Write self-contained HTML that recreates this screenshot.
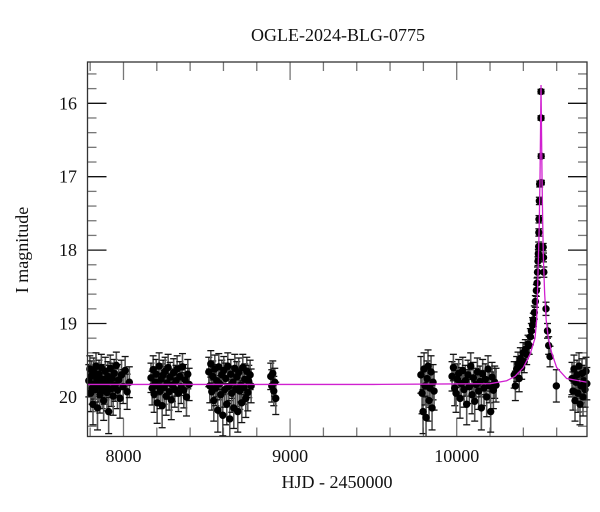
<!DOCTYPE html>
<html><head><meta charset="utf-8"><style>
html,body{margin:0;padding:0;background:#fff;}
svg{display:block;font-family:"Liberation Serif",serif;}
</style></head><body>
<svg id="chart" width="600" height="512" viewBox="0 0 600 512" xmlns="http://www.w3.org/2000/svg">
<rect width="600" height="512" fill="#fff"/>
<text x="338" y="41" font-size="18" text-anchor="middle" fill="#111">OGLE-2024-BLG-0775</text>
<text x="0" y="0" font-size="18" text-anchor="middle" fill="#111" transform="translate(28,250) rotate(-90)">I magnitude</text>
<text x="337" y="488" font-size="18" text-anchor="middle" fill="#111">HJD - 2450000</text>
<g id="ticks"></g>
<g id="errs"></g>
<g id="pts"></g>
<g id="model"></g>
<rect x="87.5" y="62" width="499.5" height="374.5" fill="none" stroke="#333" stroke-width="1.3"/>
</svg>
<script>
const xTickValues=[8000,9000,10000];
const yTickValues=[16,17,18,19,20];
const modelT=[7784,8500,9500,10200,10300,10350,10400,10440,10470,10480,10487,10495,10500,10503,10506,10509,10512,10516,10520,10528,10537,10550,10570,10600,10660,10782];
const modelM=[19.83,19.83,19.83,19.82,19.78,19.72,19.6,19.42,19.2,18.95,18.4,17.7,17.0,16.4,15.75,16.4,17.0,17.6,18.1,18.6,18.95,19.2,19.4,19.6,19.75,19.8];
const obsT=[7792,7798,7803,7808,7812,7817,7821,7826,7830,7835,7840,7844,7849,7853,7858,7862,7867,7872,7876,7881,7886,7891,7896,7901,7906,7911,7916,7921,7927,7932,7938,7944,7950,7957,7964,7971,7979,7988,7998,8010,8022,8035,
8165,8172,8178,8184,8190,8196,8202,8208,8214,8220,8226,8232,8238,8244,8250,8256,8262,8268,8274,8280,8287,8294,8301,8308,8315,8322,8330,8338,8346,8354,8362,8370,8378,8386,8394,
8512,8518,8524,8530,8536,8542,8548,8554,8560,8566,8572,8578,8584,8590,8596,8602,8608,8614,8620,8626,8632,8638,8644,8650,8656,8662,8668,8674,8680,8686,8692,8698,8704,8710,8716,8722,8728,8734,8740,8746,8752,8760,8766,
8884,8890,8896,8902,8908,8914,
9785,9792,9798,9804,9810,9816,9822,9828,9834,9840,9846,9852,9858,9864,
9972,9980,9988,9996,10004,10012,10020,10028,10036,10044,10052,10060,10068,10076,10084,10092,10100,10108,10116,10124,10132,10140,10148,10156,10164,10172,10180,10188,10196,10204,10212,10220,10228,10236,
10345,10352,10360,10368,10375,10382,10390,10398,10405,10412,10420,10428,10435,10442,10448,10455,10460,10466,10472,10478,10482,10485,10488,10490,10492,10493,10494,10496,10498,10506,10506,10507,10508,10519,10521,10523,10536,10545,10552,10560,10598,
10692,10698,10704,10710,10716,10722,10728,10734,10740,10746,10752,10758,10764,10770,10776,10781];
const obsM=[19.78,19.62,19.95,19.71,19.88,20.10,19.66,19.82,19.90,19.58,19.74,20.15,19.85,19.69,19.97,19.80,19.60,19.92,19.76,20.05,19.87,19.65,19.83,19.94,19.72,20.20,19.79,19.61,19.89,19.75,19.99,19.68,19.84,19.57,19.91,19.77,20.02,19.70,19.86,19.64,19.93,19.80,
19.74,19.88,19.63,19.96,19.80,19.69,20.08,19.85,19.58,19.92,19.76,20.12,19.70,19.87,19.65,19.99,19.81,19.60,19.93,19.73,20.04,19.84,19.67,19.90,19.78,19.62,19.95,19.72,19.86,19.59,19.91,19.77,20.00,19.69,19.83,
19.66,19.85,19.55,19.93,19.72,20.05,19.62,19.88,19.78,20.18,19.59,19.82,19.97,19.70,20.25,19.64,19.90,19.75,20.10,19.58,19.86,20.30,19.69,19.95,19.80,20.15,19.61,19.89,19.73,20.20,19.67,19.92,19.84,20.08,19.60,19.87,19.76,20.02,19.65,19.94,19.79,19.70,19.85,
19.72,19.85,19.68,19.92,19.80,20.02,
19.70,19.95,20.20,19.62,19.85,20.28,19.75,19.58,20.05,19.88,19.66,20.15,19.80,19.92,
19.72,19.60,19.88,19.95,19.76,19.68,20.02,19.82,19.64,19.90,19.78,20.10,19.70,19.86,19.58,19.97,19.74,20.06,19.83,19.66,19.92,19.79,20.15,19.69,19.88,19.76,20.00,19.62,19.85,20.20,19.73,19.91,19.80,19.84,
19.70,19.85,19.62,19.55,19.75,19.48,19.60,19.40,19.52,19.35,19.42,19.28,19.30,19.18,19.10,19.02,18.95,18.85,18.70,18.55,18.45,18.30,18.15,18.05,17.95,17.76,17.58,17.33,17.10,15.84,16.20,16.72,17.08,17.96,18.10,18.30,18.80,19.10,19.30,19.45,19.85,
19.75,19.92,19.62,20.05,19.80,19.70,19.95,19.58,20.10,19.85,19.68,20.00,19.78,19.90,19.65,19.82];
const obsE=[0.22,0.18,0.25,0.20,0.22,0.28,0.19,0.21,0.24,0.18,0.20,0.30,0.22,0.19,0.25,0.21,0.18,0.24,0.20,0.27,0.23,0.19,0.21,0.25,0.20,0.30,0.22,0.18,0.24,0.21,0.26,0.19,0.22,0.18,0.25,0.21,0.27,0.20,0.23,0.19,0.24,0.21,
0.20,0.23,0.19,0.25,0.21,0.20,0.28,0.23,0.18,0.24,0.21,0.30,0.20,0.23,0.19,0.26,0.22,0.18,0.25,0.20,0.27,0.22,0.19,0.24,0.21,0.18,0.25,0.20,0.23,0.18,0.24,0.21,0.26,0.20,0.22,
0.20,0.23,0.18,0.25,0.21,0.28,0.19,0.24,0.22,0.30,0.18,0.22,0.26,0.20,0.28,0.19,0.24,0.21,0.28,0.18,0.23,0.25,0.20,0.26,0.22,0.28,0.19,0.24,0.21,0.28,0.20,0.25,0.23,0.27,0.18,0.23,0.21,0.26,0.19,0.25,0.22,0.20,0.23,
0.18,0.22,0.17,0.20,0.19,0.22,
0.25,0.28,0.30,0.22,0.26,0.28,0.24,0.22,0.28,0.26,0.22,0.30,0.24,0.26,
0.20,0.18,0.24,0.26,0.21,0.19,0.27,0.22,0.18,0.24,0.21,0.28,0.20,0.23,0.18,0.26,0.21,0.27,0.22,0.19,0.25,0.21,0.30,0.20,0.24,0.21,0.27,0.18,0.23,0.28,0.20,0.25,0.22,0.23,
0.18,0.20,0.17,0.16,0.18,0.15,0.16,0.14,0.15,0.13,0.14,0.12,0.12,0.11,0.10,0.10,0.09,0.09,0.08,0.08,0.07,0.07,0.06,0.06,0.06,0.05,0.05,0.05,0.04,0.03,0.03,0.03,0.03,0.05,0.06,0.07,0.09,0.10,0.12,0.14,0.22,
0.22,0.26,0.19,0.28,0.22,0.20,0.26,0.18,0.28,0.23,0.20,0.26,0.21,0.24,0.19,0.22];

const X0=87.5,X1=587,T0=7784,T1=10782;
const YP16=103.3,PXM=73.4;
function xs(t){return X0+(t-T0)*(X1-X0)/(T1-T0);}
function ys(m){return YP16+(m-16)*PXM;}
const NS="http://www.w3.org/2000/svg";
function mk(tag,attrs,parent){const e=document.createElementNS(NS,tag);for(const k in attrs)e.setAttribute(k,attrs[k]);parent.appendChild(e);return e;}
const tg=document.getElementById('ticks');
for(let i=0;i<=26;i++){const m=15.4+i*0.2;const y=ys(m);if(y<62.5||y>436)continue;
 const major=Math.abs(m-Math.round(m))<0.01;const L=major?19:9;
 const a=mk('line',{x1:X0,x2:X0+L,y1:y,y2:y,stroke:major?'#111':'#777','stroke-width':1.3},tg);
 
 
 const b=mk('line',{x1:X1,x2:X1-L,y1:y,y2:y,stroke:major?'#111':'#777','stroke-width':1.3},tg);
 
 }
yTickValues.forEach(v=>{const t=mk('text',{x:77,y:ys(v)+6,'font-size':18,'text-anchor':'end',fill:'#111'},tg);t.textContent=v;
 
 });
for(let t=7800;t<=10800;t+=200){const x=xs(t);if(x<88||x>586.5)continue;
 const major=t%1000===0;const L=major?18:9;
 const a=mk('line',{x1:x,x2:x,y1:436.5,y2:436.5-L,stroke:'#777','stroke-width':1.3},tg);
 
 
 const b=mk('line',{x1:x,x2:x,y1:62,y2:62+L,stroke:'#777','stroke-width':1.3},tg);
 
 }
xTickValues.forEach(v=>{const t=mk('text',{x:xs(v),y:462,'font-size':18,'text-anchor':'middle',fill:'#111'},tg);t.textContent=v;
 
 });
const eg=document.getElementById('errs'),pg=document.getElementById('pts');
for(let i=0;i<obsT.length;i++){const x=xs(obsT[i]),y=ys(obsM[i]),e=obsE[i]*PXM;
 const l=mk('line',{x1:x,x2:x,y1:Math.max(62,y-e),y2:Math.min(436.5,y+e),stroke:'#555','stroke-width':1.6},eg);
 
 
 [y-e,y+e].forEach(yy=>{if(yy>62&&yy<436.5){const c=mk('line',{x1:x-3.5,x2:x+3.5,y1:yy,y2:yy,stroke:'#111','stroke-width':1.3},eg);
  
  }});
 const p=mk('circle',{cx:x,cy:y,r:3.7,fill:'#000'},pg);
 
 }
let d='';for(let i=0;i<modelT.length;i++){d+=(i?'L':'M')+xs(modelT[i]).toFixed(2)+','+ys(modelM[i]).toFixed(2);}
const path=mk('path',{d:d,fill:'none',stroke:'#d020d0','stroke-width':1.3},document.getElementById('model'));


</script>
</body></html>
